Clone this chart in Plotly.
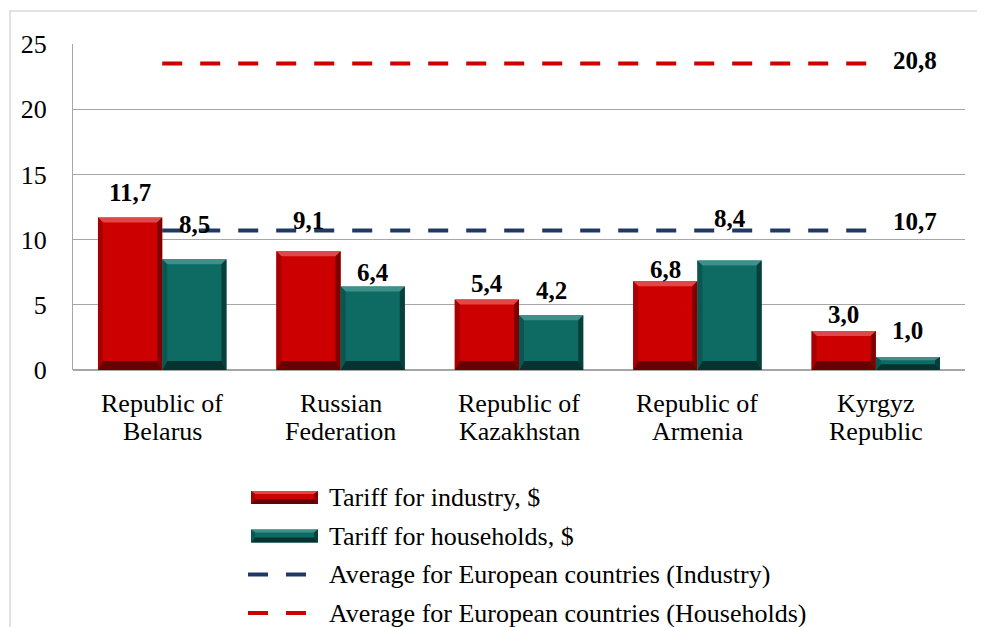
import plotly.graph_objects as go

# ---------------- data ----------------
categories = ["Republic of<br>Belarus", "Russian<br>Federation", "Republic of<br>Kazakhstan",
              "Republic of<br>Armenia", "Kyrgyz<br>Republic"]
tariff_industry = [11.7, 9.1, 5.4, 6.8, 3.0]
tariff_households = [8.5, 6.4, 4.2, 8.4, 1.0]
eu_industry_line = [10.7, 10.7, 10.7, 10.7, 10.7]
eu_industry_label = "10,7"
eu_households_line = [23.5, 23.5, 23.5, 23.5, 23.5]   # as drawn in the picture
eu_households_label = "20,8"
y_ticks = [0, 5, 10, 15, 20, 25]
legend_names = ["Tariff for industry, $", "Tariff for households, $",
                "Average for European countries (Industry)",
                "Average for European countries (Households)"]

# ---------------- style ----------------
FONT = "Liberation Serif"
OFF = 8                      # page body margin
W, H = 985 - OFF, 627 - OFF
ML, MT = 73 - OFF, 44 - OFF
PW, PH = 892, 326
MR = W - ML - PW
MB = H - MT - PH
YMAX = 25
RED = "#CC0000"
TEAL = "#0D6B63"
NAVY = "#1F3864"
LRED = "#CC0000"
GRID = "#A6A6A6"
BAR_W = 0.36
red_bevel = dict(top="#E04848", bottom="#680000", left="#A80000", right="#7E0000")
teal_bevel = dict(top="#3E908A", bottom="#06332F", left="#0A5751", right="#073F3A")
ind_label_shift = [25, 31, 16, 12, 16]
hh_label_shift = [35, 14, 25, 42, 26]

xs = list(range(len(categories)))
fig = go.Figure()

fig.add_trace(go.Bar(x=xs, y=tariff_industry, name=legend_names[0], marker=dict(color=RED, line=dict(width=0)),
                     showlegend=False))
fig.add_trace(go.Bar(x=xs, y=tariff_households, name=legend_names[1], marker=dict(color=TEAL, line=dict(width=0)),
                     showlegend=False))
fig.add_trace(go.Scatter(x=xs, y=eu_industry_line, mode="lines", name=legend_names[2],
                         line=dict(color=NAVY, width=4, dash="20px,18px"), showlegend=False))
fig.add_trace(go.Scatter(x=xs, y=eu_households_line, mode="lines", name=legend_names[3],
                         line=dict(color=LRED, width=4, dash="20px,18px"), showlegend=False))

shapes = []


def bevel(x0, x1, y0, y1, sx, sy, xref, yref, col, side_px=5, top_px=5, bot_px=9):
    """Trapezoid bevel edges; sx, sy = pixels per unit."""
    h_px = (y1 - y0) * sy
    w_px = (x1 - x0) * sx
    tb = top_px + bot_px
    if tb > h_px * 0.7:
        f = h_px * 0.7 / tb
        top_px, bot_px = top_px * f, bot_px * f
    side_px = min(side_px, w_px / 4)
    s = side_px / sx
    bt = top_px / sy
    bb = bot_px / sy
    polys = {
        "top": [(x0, y1), (x1, y1), (x1 - s, y1 - bt), (x0 + s, y1 - bt)],
        "bottom": [(x0, y0), (x1, y0), (x1 - s, y0 + bb), (x0 + s, y0 + bb)],
        "left": [(x0, y0), (x0 + s, y0 + bb), (x0 + s, y1 - bt), (x0, y1)],
        "right": [(x1, y0), (x1 - s, y0 + bb), (x1 - s, y1 - bt), (x1, y1)],
    }
    out = []
    for k, pts in polys.items():
        path = "M " + " L ".join(f"{px},{py}" for px, py in pts) + " Z"
        out.append(dict(type="path", path=path, xref=xref, yref=yref, fillcolor=col[k],
                        line=dict(width=0), layer="above"))
    return out


sx = PW / len(categories)   # px per x unit
sy = PH / YMAX               # px per y unit
for i in xs:
    shapes += bevel(i - BAR_W, i, 0, tariff_industry[i], sx, sy, "x", "y", red_bevel)
    shapes += bevel(i, i + BAR_W, 0, tariff_households[i], sx, sy, "x", "y", teal_bevel)


def px2paper(px, py):
    """page pixel -> paper coords"""
    return (px - OFF - ML) / PW, (OFF + MT + PH - py) / PH


# outer border
bx0, by1 = px2paper(10, 11)
shapes.append(dict(type="rect", xref="paper", yref="paper", x0=bx0, x1=1.5,
                   y0=-2, y1=by1, line=dict(color="#D9D9D9", width=1.5), layer="below"))

# manual legend
legend_rows = [497.5, 536, 574.5, 613]
ann = []
for k, (name, yrow) in enumerate(zip(legend_names, legend_rows)):
    if k < 2:
        x0, y0 = px2paper(251, yrow + 6.5)
        x1, y1 = px2paper(318, yrow - 6.5)
        shapes.insert(0, dict(type="rect", xref="paper", yref="paper", x0=x0, x1=x1, y0=y0, y1=y1,
                              fillcolor=RED if k == 0 else TEAL, line=dict(width=0), layer="above"))
        shapes += bevel(x0, x1, y0, y1, PW, PH, "paper", "paper",
                        red_bevel if k == 0 else teal_bevel, side_px=4, top_px=3, bot_px=5)
    else:
        x0, yy = px2paper(248, yrow)
        x1, _ = px2paper(306, yrow)
        shapes.append(dict(type="line", xref="paper", yref="paper", x0=x0, x1=x1, y0=yy, y1=yy,
                           line=dict(color=NAVY if k == 2 else LRED, width=4, dash="20px,18px"),
                           layer="above"))
    tx, ty = px2paper(327, yrow)
    ann.append(dict(x=tx, y=ty, xref="paper", yref="paper", text=name, showarrow=False,
                    xanchor="left", yanchor="middle", font=dict(family=FONT, size=26, color="black")))

# category labels (two lines each)
for i, c in enumerate(categories):
    for j, line in enumerate(c.split("<br>")):
        ann.append(dict(x=i, y=0, xref="x", yref="paper", text=line, showarrow=False,
                        xanchor="center", yanchor="middle", yshift=-33 - 28 * j,
                        font=dict(family=FONT, size=26, color="black")))


def fmt(v):
    return f"{v:.1f}".replace(".", ",")


# data labels
for i in xs:
    ann.append(dict(x=i - BAR_W / 2, y=tariff_industry[i], xref="x", yref="y", text=fmt(tariff_industry[i]),
                    showarrow=False, xanchor="center", yanchor="middle", yshift=ind_label_shift[i],
                    font=dict(family=FONT, size=25, color="black", weight="bold")))
    ann.append(dict(x=i + BAR_W / 2, y=tariff_households[i], xref="x", yref="y", text=fmt(tariff_households[i]),
                    showarrow=False, xanchor="center", yanchor="middle", yshift=hh_label_shift[i],
                    font=dict(family=FONT, size=25, color="black", weight="bold")))

ann.append(dict(x=xs[-1], y=eu_households_line[-1], xref="x", yref="y", text=eu_households_label,
                showarrow=False, xanchor="left", yanchor="middle", xshift=15, yshift=3,
                font=dict(family=FONT, size=25, color="black", weight="bold")))
ann.append(dict(x=xs[-1], y=eu_industry_line[-1], xref="x", yref="y", text=eu_industry_label,
                showarrow=False, xanchor="left", yanchor="middle", xshift=15, yshift=9,
                font=dict(family=FONT, size=25, color="black", weight="bold")))

fig.update_layout(
    width=W, height=H,
    margin=dict(l=ML, r=MR, t=MT, b=MB),
    paper_bgcolor="white", plot_bgcolor="white",
    barmode="group", bargap=1 - 2 * BAR_W, bargroupgap=0,
    showlegend=False,
    font=dict(family=FONT),
    shapes=shapes, annotations=ann,
    xaxis=dict(range=[-0.5, len(categories) - 0.5], showticklabels=False, showgrid=False,
               zeroline=False, showline=False, ticks=""),
    yaxis=dict(range=[0, YMAX], tickvals=y_ticks, showgrid=True, gridcolor=GRID, gridwidth=1,
               zeroline=True, zerolinecolor=GRID, zerolinewidth=1.5,
               showline=True, linecolor=GRID, linewidth=1, ticks="", ticklabelstandoff=20,
               tickfont=dict(family=FONT, size=26, color="black")),
)

fig.write_html("out.html")
